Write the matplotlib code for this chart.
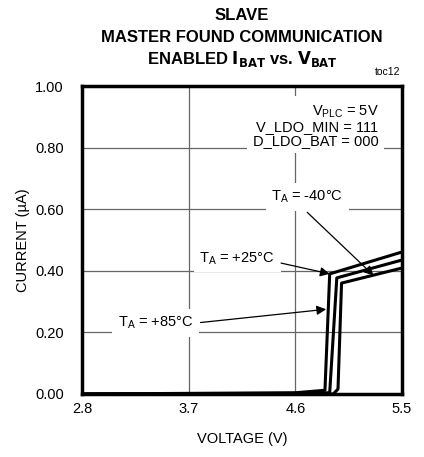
import matplotlib
matplotlib.use("Agg")
import matplotlib.pyplot as plt

plt.rcParams['font.family'] = ['Liberation Sans', 'DejaVu Sans']
plt.rcParams['mathtext.default'] = 'regular'

# three temperature curves (voltage V, current uA)
v_a = [2.8, 4.6, 4.85, 4.89, 5.5]
i_a = [0.0, 0.004, 0.012, 0.39, 0.461]
v_b = [2.8, 4.6, 4.89, 4.95, 5.5]
i_b = [0.0, 0.002, 0.004, 0.377, 0.435]
v_c = [2.8, 4.6, 4.92, 4.96, 4.99, 5.5]
i_c = [0.0, 0.0, 0.0, 0.016, 0.36, 0.409]

xticks = [2.8, 3.7, 4.6, 5.5]
xlabels = ['2.8', '3.7', '4.6', '5.5']
yticks = [0.0, 0.2, 0.4, 0.6, 0.8, 1.0]
ylabels = ['0.00', '0.20', '0.40', '0.60', '0.80', '1.00']

fig = plt.figure(figsize=(4.24, 4.57), dpi=100)
ax = fig.add_axes([0.1934, 0.1379, 0.7547, 0.6739])

ax.plot(v_a, i_a, color='black', lw=2.2, zorder=4)
ax.plot(v_b, i_b, color='black', lw=2.2, zorder=4)
ax.plot(v_c, i_c, color='black', lw=2.2, zorder=4)

ax.set_xlim(2.8, 5.5)
ax.set_ylim(0, 1.0)
ax.set_xticks(xticks)
ax.set_xticklabels(xlabels)
ax.set_yticks(yticks)
ax.set_yticklabels(ylabels)
ax.tick_params(length=0, labelsize=10.5)
ax.tick_params(axis='x', pad=6)
ax.tick_params(axis='y', pad=13)
ax.grid(True, color='#666666', lw=0.9, zorder=0)
for s in ax.spines.values():
    s.set_linewidth(2.5)

ax.set_xlabel('VOLTAGE (V)', fontsize=10.5)
ax.set_ylabel('CURRENT (µA)', fontsize=10.5)
ax.xaxis.set_label_coords(0.5, -0.125)
ax.yaxis.set_label_coords(-0.1625, 0.5)

fig.text(0.571, 0.965, 'SLAVE', ha='center', va='center', fontsize=12, fontweight='bold')
fig.text(0.571, 0.918, 'MASTER FOUND COMMUNICATION', ha='center', va='center', fontsize=12, fontweight='bold')
fig.text(0.571, 0.870, r'ENABLED $\mathbf{I_{BAT}}$ vs. $\mathbf{V_{BAT}}$', ha='center', va='center',
         fontsize=12, fontweight='bold')
fig.text(0.945, 0.842, 'toc12', ha='right', va='center', fontsize=7.5)

box = dict(facecolor='white', edgecolor='none', pad=4)
ax.text(5.30, 0.872, '$V_{PLC}$ = 5V\nV_LDO_MIN = 111\nD_LDO_BAT = 000', ha='right', va='center',
        fontsize=10.5, linespacing=1.0, bbox=box, zorder=3)

arrow = dict(arrowstyle='-|>', color='black', lw=0.9, mutation_scale=14, shrinkA=0, shrinkB=0)
ax.annotate('$T_A$ = -40°C', xy=(5.26, 0.385), xytext=(4.70, 0.64), ha='center', va='center',
            fontsize=10.5, bbox=box, zorder=3)
ax.annotate('', xy=(5.26, 0.385), xytext=(4.70, 0.59), arrowprops=arrow, zorder=5)
ax.annotate('$T_A$ = +25°C', xy=(4.89, 0.39), xytext=(4.11, 0.44), ha='center', va='center',
            fontsize=10.5, bbox=box, zorder=3)
ax.annotate('', xy=(4.89, 0.39), xytext=(4.48, 0.425), arrowprops=arrow, zorder=5)
ax.annotate('$T_A$ = +85°C', xy=(4.86, 0.275), xytext=(3.42, 0.23), ha='center', va='center',
            fontsize=10.5, bbox=box, zorder=3)
ax.annotate('', xy=(4.86, 0.275), xytext=(3.80, 0.232), arrowprops=arrow, zorder=5)

fig.savefig('out.png', dpi=100)
